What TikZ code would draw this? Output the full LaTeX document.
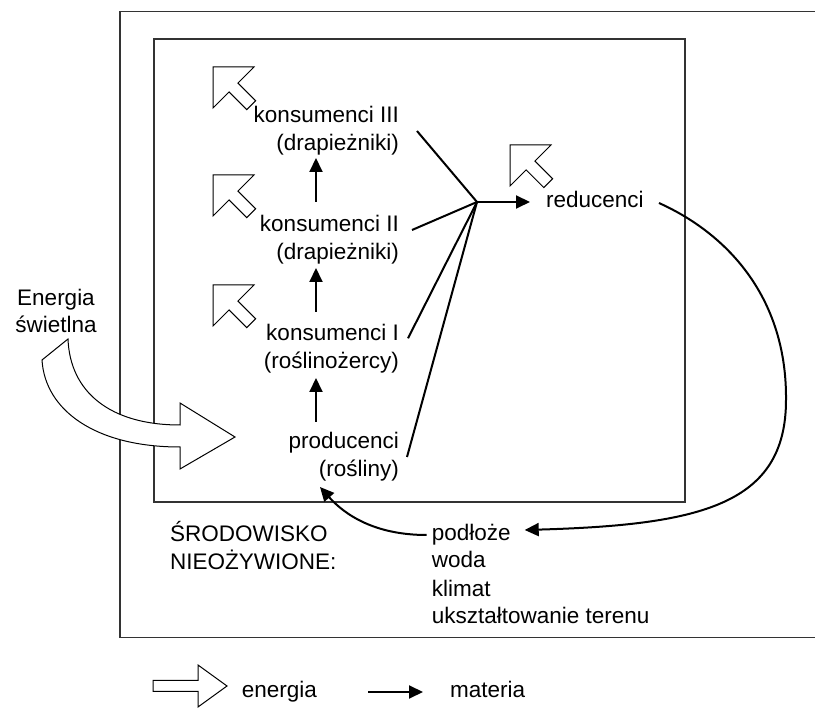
\documentclass[tikz,border=0pt]{standalone}
\usepackage{fontspec}
\setmainfont{Liberation Sans}
\usetikzlibrary{arrows.meta,calc}
\begin{document}
\begin{tikzpicture}[x=1pt,y=-1pt,
  frame/.style={draw=black!80,line width=1.2pt},
  lbl/.style={inner sep=0pt,font=\fontsize{22.5}{28}\selectfont},
  mat/.style={line width=2pt,-{Triangle[length=14pt,width=13pt]}},
  link/.style={line width=2pt},
  hollow/.style={draw=black,line width=1pt,fill=white,line join=miter},
  upleft/.pic={\path[hollow] (0,0) -- (41,0) -- (24.9,16.1) -- (42.6,33.8)
      -- (33.8,42.6) -- (16.1,24.9) -- (0,41) -- cycle;}
]
\useasboundingbox (0,0) rectangle (815,708);

% ecosystem frames
\draw[frame] (120,11.7) rectangle (818,637.7);
\draw[frame] (154,39) rectangle (685,502);

% trophic levels (base anchor sits on the last line)
\node[lbl,align=right,anchor=base east] (k3) at (399,151) {konsumenci III\\(drapieżniki)};
\node[lbl,align=right,anchor=base east] (k2) at (399,259.7) {konsumenci II\\(drapieżniki)};
\node[lbl,align=right,anchor=base east] (k1) at (399,368.3) {konsumenci I\\(roślinożercy)};
\node[lbl,align=right,anchor=base east] (pr) at (399,477) {producenci\\(rośliny)};
\node[lbl,anchor=base west] (re) at (546,208) {reducenci};

% abiotic environment
\node[lbl,align=left,anchor=base west] (sr) at (170,569.7) {ŚRODOWISKO\\NIEOŻYWIONE:};
\node[lbl,align=left,anchor=base west] (ab) at (431.7,624) {podłoże\\woda\\klimat\\ukształtowanie terenu};

% light input
\node[lbl,font=\fontsize{22.5}{27}\selectfont,align=center,anchor=base] (en) at (56,333) {Energia\\świetlna};

% legend
\node[lbl,anchor=base west] (le) at (241.7,698) {energia};
\node[lbl,anchor=base west] (lm) at (450,698) {materia};

% matter flow up the food chain
\draw[mat] ($(k2.base east)+(-83,-58)$) -- ($(k3.base east)+(-83,7)$);
\draw[mat] ($(k1.base east)+(-83,-56.3)$) -- ($(k2.base east)+(-83,8.3)$);
\draw[mat] ($(pr.base east)+(-83,-55)$) -- ($(k1.base east)+(-83,9.7)$);

% dead matter to decomposers
\coordinate (j) at (477,202);
\draw[link] ($(k3.base east)+(18,-20)$) -- (j);
\draw[link] ($(k2.base east)+(13,-29.7)$) -- (j);
\draw[link] ($(k1.base east)+(9,-30)$) -- (j);
\draw[link] ($(pr.base east)+(8,-20)$) -- (j);
\draw[mat] (j) -- ($(re.base west)+(-16,-6)$);

% mineral cycle
\draw[mat] ($(re.base east)+(15,-5)$) .. controls (730,235) and (787,300) .. (786,400)
  .. controls (786,505) and (700,525) .. ($(ab.base west)+(93,-94)$);
\draw[mat] ($(ab.base west)+(-5,-89)$) .. controls (375,535) and (345,515) .. ($(pr.base east)+(-79,10)$);

% heat losses
\pic at (213,67) {upleft};
\pic at (213,175) {upleft};
\pic at (213,285) {upleft};
\pic at (510,145) {upleft};

% curved light arrow
\path[hollow] (68,339) .. controls (70,392) and (110,425) .. (180,425) -- (180,403)
  -- (235,437) -- (180,469) -- (180,447) .. controls (95,447) and (45,410) .. (42,360) -- cycle;

% legend symbols
\path[hollow] (153,680.5) -- (198,680.5) -- (198,665) -- (227,686) -- (198,707)
  -- (198,691.5) -- (153,691.5) -- cycle;
\draw[mat] ($(le.base east)+(51,-6)$) -- ($(lm.base west)+(-27,-6)$);
\end{tikzpicture}
\end{document}
